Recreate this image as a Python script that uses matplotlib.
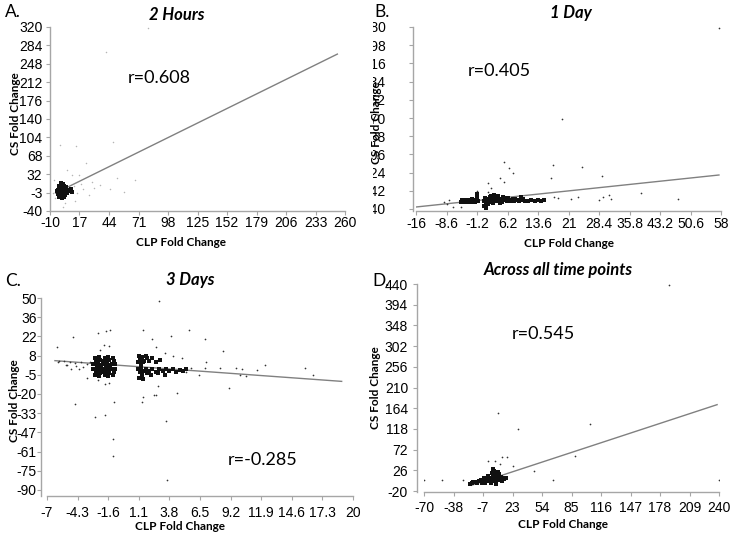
import matplotlib
matplotlib.use("Agg")
import matplotlib.pyplot as plt
from matplotlib.transforms import Bbox

W, H = 742, 536

# ---- panel A: 2 Hours ----
a_xticks = [-10, 17, 44, 71, 98, 125, 152, 179, 206, 233, 260]
a_yticks = [-40, -4, 32, 68, 104, 140, 176, 212, 248, 284, 320]
a_ylabels = ["-40", "-3", "32", "68", "104", "140", "176", "212", "248", "284", "320"]
a_core_x = [-3, -2, -1, 0, 1, 2, 3, 4, 5, -2, 0, 2, 1, -1, 3, 6, 7, -3, 0, 1, 2, -1, 4, 5, 3, -2, 8, 6, 0, 1, -4, 9, 10, 2, -1]
a_core_y = [2, -4, 5, -2, 3, -6, 1, 4, -3, 8, 10, 12, -10, -8, -12, 2, -1, -6, 0, 6, -1, 1, -8, 7, 9, -12, 0, -5, 14, -14, 0, 3, -2, 4, -3]
a_sparse_x = [80, 41, 48, 14, -1, 51, 68, 23, 36, 2, 4, -5, 12, 15, 18, 20, 26, 28, 10, 6, 17, 30, -6, -7, 13, 45, 58]
a_sparse_y = [318, 271, 95, 87, 89, 25, 21, 54, 11, -32, -25, -15, 8, -5, 12, 3, -8, 17, 30, 40, 30, 5, 20, -5, -20, 3, -2]
a_fit_x = [-5, 253]
a_fit_y = [-5, 267]

# ---- panel B: 1 Day ----
b_xticks = [-16, -8.6, -1.2, 6.2, 13.6, 21, 28.4, 35.8, 43.2, 50.6, 58]
b_xlabels = ["-16", "-8.6", "-1.2", "6.2", "13.6", "21", "28.4", "35.8", "43.2", "50.6", "58"]
b_yticks = [-40, 142, 324, 506, 688, 870, 1052, 1234, 1416, 1598, 1780]
b_core_x = [-5.0, -4.6, -4.2, -3.8, -3.4, -3.0, -2.6, -2.2, -1.8, -1.4, -1.0, -4.8, -4.0, -3.2, -2.4, -1.6, -1.2, -3.6, -2.8, -2.0, -1.1, -1.3,
            0.5, 0.9, 1.3, 1.7, 2.1, 2.5, 2.9, 3.3, 3.7, 4.1, 4.5, 4.9, 5.3, 5.7, 6.1, 6.5, 6.9, 7.3, 7.7, 8.1, 8.5, 8.9,
            0.7, 1.1, 1.9, 2.7, 3.5, 4.3, 5.1, 6.3, 7.5, 9.5, 10, 0.6, 1.0, 1.4, 2.3, 3.0, 4.0, 5.5,
            9.8, 10.5, 11.2, 12, 12.8, 13.5, 14.3, 15]
b_core_y = [35, 45, 30, 50, 40, 55, 35, 45, 30, 50, 40, 55, 42, 28, 58, 38, 62, 36, 48, 52, 80, 110,
            40, 55, 35, 60, 45, 30, 65, 50, 38, 58, 44, 34, 62, 48, 40, 55, 36, 50, 42, 58, 46, 38,
            70, 25, 80, 20, 75, 25, 85, 70, 65, 80, 60, -10, -30, 10, 90, 100, 95, 75,
            50, 45, 40, 48, 42, 50, 45, 52]
b_sparse_x = [19.4, 5.4, 6.6, 7.5, 4.4, 5.4, 17.3, 16.8, 24.3, 29.1, 57.5, 1.5, 2.2, 1.5, -1.2, 17.5, 18.5, 21.6, 23.3, 28.4,
              29.4, 30.8, 31.3, 38.6, 47.6, -9.2, -8.5, -7.0, -5.1, -8.0]
b_sparse_y = [860, 430, 370, 320, 270, 230, 400, 270, 380, 290, 1770, 220, 170, 130, 140, 80, 70, 60, 80, 50,
              80, 100, 60, 120, 60, 30, 10, -20, -20, 50]
b_fit_x = [-16, 57.5]
b_fit_y = [-20, 300]

# ---- panel C: 3 Days ----
c_xticks = [-7, -4.3, -1.6, 1.1, 3.8, 6.5, 9.2, 11.9, 14.6, 17.3, 20]
c_xlabels = ["-7", "-4.3", "-1.6", "1.1", "3.8", "6.5", "9.2", "11.9", "14.6", "17.3", "20"]
c_yticks = [-90, -76, -62, -48, -34, -20, -6, 8, 22, 36, 50]
c_ylabels = ["-90", "-75", "-61", "-47", "-33", "-20", "-5", "8", "22", "36", "50"]
c_core_x = [-2.9, -2.7, -2.5, -2.3, -2.1, -1.9, -1.7, -1.5, -1.3, -1.1, -2.8, -2.4, -2.0, -1.6, -1.2, -2.6, -2.2, -1.8, -1.4, -1.0,
            -2.9, -2.7, -2.5, -2.3, -2.1, -1.9, -1.7, -1.5, -1.3, -1.1, -2.8, -2.4, -2.0, -1.6, -1.2, -2.6, -2.2, -1.8, -1.4, -1.0,
            1.0, 1.2, 1.4, 1.6, 1.8, 1.1, 1.3, 1.5, 1.7, 2.0, 2.3, 2.6, 3.0,
            1.0, 1.2, 1.4, 1.6, 1.8, 1.1, 1.3, 1.5, 1.7, 2.0, 2.3, 2.6, 2.9, 3.2, 3.5, 3.8, 4.1, 4.4, 4.7, 5.0, 5.3, 2.2, 2.8, 3.4]
c_core_y = [2, 4, 3, 5, 2, 6, 3, 5, 2, 4, 6, 7, 4, 7, 6, 1.5, 1.5, 1.5, 1.5, 2,
            -2, -4, -3, -5, -2, -6, -3, -5, -2, -4, -6, -7, -4, -7, -6, -1.5, -1.5, -1.5, -1.5, -2,
            3, 5, 7, 4, 6, 8, 2, 3, 8, 4, 6, 3, 5,
            -2, -4, -6, -3, -5, -8, -1, -9, -2, -3, -1.5, -4, -2, -3.5, -1.5, -3, -2, -4, -2.5, -3, -2, -6, -5, -6]
c_sparse_x = [-6.1, -4.7, -2.5, -1.8, -1.4, -4.5, -2.8, -1.9, -1.1, -1.2, -1.2, 2.9, 1.5, 3.9, 5.5, 6.9, 8.5, 9.1, 3.5, 3.6,
              1.4, 1.5, 2.4, 2.6, 4.5, 2.8, 12.2, 15.8, 16.5, 11.5, 9.7, 10.2, 10.6, 10.0, 8.3, 6.9, 7.0, 5.7, 6.4, 5.3,
              4.9, 4.1, 3.4, 2.6, 2.3, -5.9, -5.3, -4.9, -4.2, -3.5, -2.5, -1.9, -1.5, -2.3, -2.0, -1.5,
              -6.0, -5.5, -5.0, -4.5, -4.0, -3.5, -3.2, -5.2, -4.4, -3.8]
c_sparse_y = [14.3, 21.5, 24.5, 26, 26.7, -27, -37, -35, -26, -53, -65, 47.8, 26.7, 22, 27, 20, 11, -15.6, -39.7, -82.7,
              -26, -22, -21, -21, -19.5, -14, 1, -1, -6, -2.5, -1, -2, -7, -6, -1, -1, 3, -1, -6, -4,
              6, 8, 10, 14, 20, 4, 1, -2, -2, -8, -10, -13, -12, 12, 16, 15,
              3, 4, 3, 2.5, 3.5, 2, 3, 1, 0.5, -0.5]
c_fit_x = [-6.3, 19]
c_fit_y = [4.3, -10.8]

# ---- panel D: Across all time points ----
d_xticks = [-70, -39, -8, 23, 54, 85, 116, 147, 178, 209, 240]
d_xlabels = ["-70", "-38", "-7", "23", "54", "85", "116", "147", "178", "209", "240"]
d_yticks = [-20, 26, 72, 118, 164, 210, 256, 302, 348, 394, 440]
d_core_x = [-20, -16, -12, -8, -4, 0, 4, 8, 12, -14, -10, -6, -2, 2, 6, 10, -18, -22, -1, 3, 5, 7, 9, 1, 4, -3, 11, 13, 6, 0, -5, -9, 14, 16, 2, 8, -7]
d_core_y = [-3, 0, 2, 1, 3, 4, 2, 5, 3, -2, 4, -1, 6, 8, 1, 7, 1, -5, 10, 12, 15, 10, 18, 20, 25, 14, 12, 9, -4, -2, 5, -3, 6, 10, 30, 22, 8]
d_sparse_x = [187.5, 7.8, 28.8, 104.4, 88.7, 45.6, 23.5, 12, 17.2, -2.7, 4.6, -70, -51, -29, 65.6, 240, 10]
d_sparse_y = [438, 153, 118, 129, 58, 24, 35, 55, 55, 47, 47, 4, 4, 4, 4, 4, 40]
d_fit_x = [-20, 238]
d_fit_y = [-7, 172]

AXIS_GRAY = "#a6a6a6"
FIT_GRAY = "#808080"
LABEL_FONT = "Lato"
TICK_FONT = "Liberation Sans"
TICK_SIZE = 10


def px_axes(fig, left, top, right, bottom):
    return fig.add_axes([left / W, 1 - bottom / H, (right - left) / W, (bottom - top) / H])


def style_axes(ax, xlim, ylim, xticks, xlabels, yticks, ylabels, xpad, ypad, yout):
    ax.set_xlim(*xlim)
    ax.set_ylim(*ylim)
    for s in ["top", "right"]:
        ax.spines[s].set_visible(False)
    for s in ["left", "bottom"]:
        ax.spines[s].set_color(AXIS_GRAY)
        ax.spines[s].set_linewidth(1.0)
    ax.spines["left"].set_position(("outward", yout))
    ax.set_xticks(xticks)
    ax.set_xticklabels(xlabels, fontfamily=TICK_FONT, fontsize=TICK_SIZE)
    ax.set_yticks(yticks)
    ax.set_yticklabels(ylabels, fontfamily=TICK_FONT, fontsize=TICK_SIZE)
    ax.tick_params(axis="both", direction="out", length=3, width=0.8, color=AXIS_GRAY)
    ax.tick_params(axis="x", pad=xpad)
    ax.tick_params(axis="y", pad=ypad)
    ax.patch.set_alpha(0)


def ftext(fig, x, y, s, **kw):
    fig.text(x / W, 1 - y / H, s, ha="center", va="center", **kw)


fig = plt.figure(figsize=(W / 100, H / 100), dpi=100)

# panel A
ax = px_axes(fig, 50, 27, 345, 211)
style_axes(ax, (-10, 260), (-40, 320), a_xticks, [str(v) for v in a_xticks], a_yticks, a_ylabels, 0.5, 2.5, 0)
ax.plot(a_fit_x, a_fit_y, color=FIT_GRAY, lw=1, zorder=2)
ax.scatter(a_sparse_x, a_sparse_y, s=1.2, color="#b5b5b5", linewidths=0, zorder=3)
ax.scatter(a_core_x, a_core_y, s=5, color="#111111", marker="s", linewidths=0, zorder=3)

# panel B
ax_b = px_axes(fig, 416, 27, 721, 211)
style_axes(ax_b, (-16, 58), (-60, 1780), b_xticks, b_xlabels, b_yticks, [str(v) for v in b_yticks], 1.5, 17, 2)
ax_b.plot(b_fit_x, b_fit_y, color=FIT_GRAY, lw=1, zorder=2)
ax_b.scatter(b_sparse_x, b_sparse_y, s=1.5, color="#333333", linewidths=0, zorder=3)
ax_b.scatter(b_core_x, b_core_y, s=7, color="#111111", marker="s", linewidths=0, zorder=3)

# panel C
ax = px_axes(fig, 47, 298, 353, 496)
style_axes(ax, (-7, 20), (-94.4, 50), c_xticks, c_xlabels, c_yticks, c_ylabels, 4.5, 0.5, 4)
ax.plot(c_fit_x, c_fit_y, color=FIT_GRAY, lw=1, zorder=2)
ax.scatter(c_sparse_x, c_sparse_y, s=1.5, color="#333333", linewidths=0, zorder=3)
ax.scatter(c_core_x, c_core_y, s=9, color="#111111", marker="s", linewidths=0, zorder=3)

# panel D
ax = px_axes(fig, 424, 284, 719, 492)
style_axes(ax, (-70, 240), (-22, 440), d_xticks, d_xlabels, d_yticks, [str(v) for v in d_yticks], 3.5, 3.5, 5)
ax.plot(d_fit_x, d_fit_y, color=FIT_GRAY, lw=1, zorder=2)
ax.scatter(d_sparse_x, d_sparse_y, s=1.5, color="#333333", linewidths=0, zorder=3)
ax.scatter(d_core_x, d_core_y, s=8, color="#111111", marker="s", linewidths=0, zorder=3)

# titles, labels, r values
title_kw = dict(fontfamily=LABEL_FONT, fontweight="bold", fontstyle="italic", fontsize=12)
ftext(fig, 177, 15, "2 Hours", **title_kw)
ftext(fig, 571, 13, "1 Day", **title_kw)
ftext(fig, 190, 280, "3 Days", **title_kw)
ftext(fig, 558, 270, "Across all time points", **title_kw)

lab_kw = dict(fontfamily=LABEL_FONT, fontweight="bold", fontsize=8.5)
for x, y in [(181, 242), (569, 243), (180, 526), (563, 525)]:
    ftext(fig, x, y, "CLP Fold Change", **lab_kw)
for x, y in [(16, 114), (377, 123), (15, 401), (376, 388)]:
    ftext(fig, x, y, "CS Fold Change", rotation=90, **lab_kw)

r_kw = dict(fontfamily=LABEL_FONT, fontsize=13)
ftext(fig, 159, 78, "r=0.608", **r_kw)
ftext(fig, 499, 71, "r=0.405", **r_kw)
ftext(fig, 263, 460, "r=-0.285", **r_kw)
ftext(fig, 543, 334, "r=0.545", **r_kw)

pan_kw = dict(fontfamily=LABEL_FONT, fontsize=12.5)
ftext(fig, 13, 12, "A.", **pan_kw)
ftext(fig, 382, 12, "B.", **pan_kw)
ftext(fig, 13, 281, "C.", **pan_kw)
ftext(fig, 381, 281, "D.", **pan_kw)

# panel B's y tick labels are cut off at the left edge of the panel
fig.canvas.draw()
clip = Bbox([[373, 0], [W, H]])
for lab in ax_b.get_yticklabels():
    lab.set_clip_box(clip)
    lab.set_clip_on(True)

fig.savefig("out.png", dpi=100)
